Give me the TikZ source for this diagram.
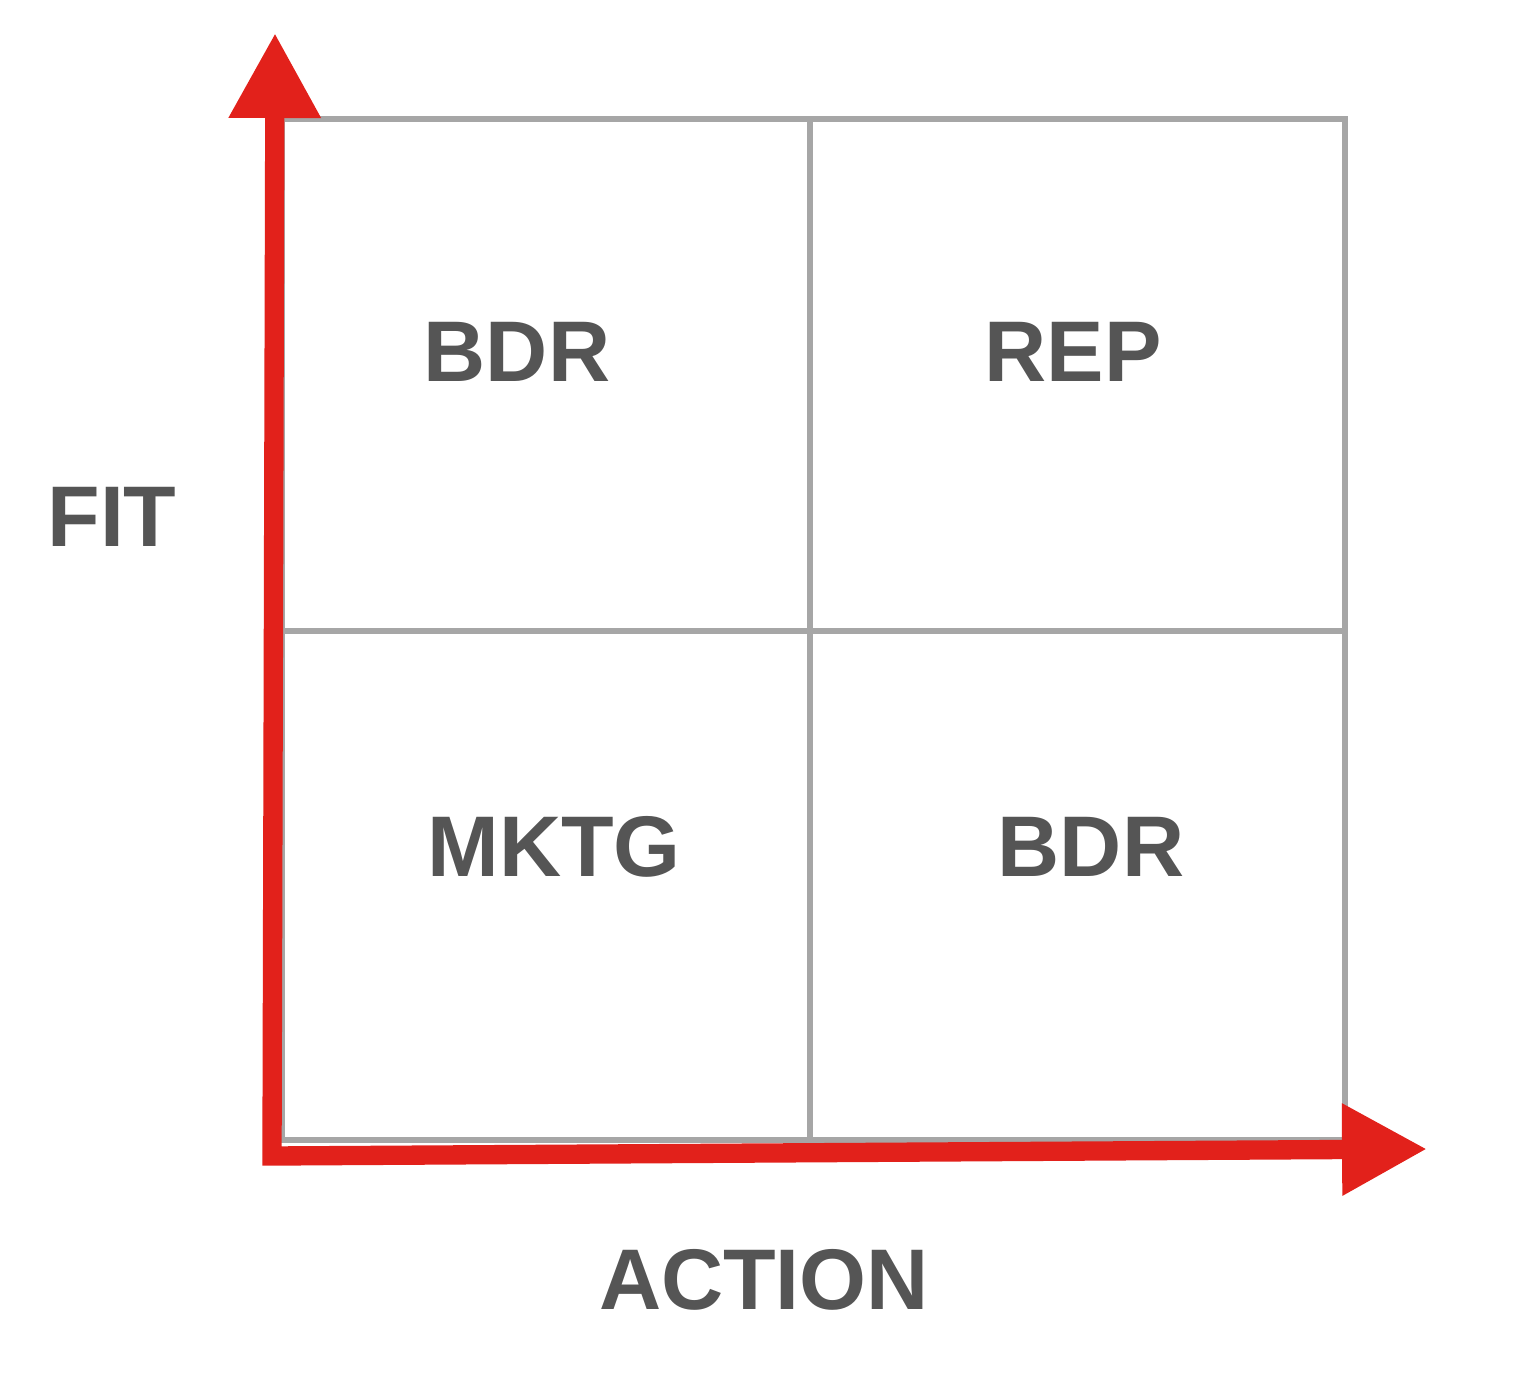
\documentclass[tikz,border=0pt]{standalone}
\usepackage{xcolor}
\usepackage{fontspec}
\setsansfont{Liberation Sans}
\usepackage{tikz}
\usetikzlibrary{arrows.meta, positioning, calc}
\definecolor{axisred}{HTML}{E2211B}
\definecolor{gridgray}{HTML}{A6A6A6}
\definecolor{labelgray}{HTML}{555555}
\tikzset{
  gridline/.style={
    draw=gridgray, line width=3.4pt
  },
  axisline/.style={
    draw=axisred, line width=11pt, line join=miter,
    {Triangle[length=1.7cm, width=1.74cm, color=axisred]}-{Triangle[length=1.7cm, width=1.74cm, color=axisred]}
  },
  quadlabel/.style={
    font=\sffamily\bfseries\fontsize{49}{49}\selectfont, text=labelgray,
    inner sep=0pt
  },
}
\begin{document}
\begin{tikzpicture}[x=0.02cm, y=-0.02cm]
  \useasboundingbox (0,0) rectangle (1513,1381);

  % Grid
  \coordinate (nw) at (282,119);
  \coordinate (se) at (1345,1140);
  \draw[gridline] (nw) rectangle (se);
  \draw[gridline] (810,119) -- (810,1140);
  \draw[gridline] (282,631) -- (1345,631);

  % Axes
  \coordinate (ytip) at (275,33);
  \coordinate (corner) at (272,1156);
  \coordinate (xtip) at (1427,1149);
  \draw[axisline] (ytip) -- (corner) -- (xtip);

  % Quadrant labels
  \node[quadlabel] (bdrtop) at (517,352) {BDR};
  \node[quadlabel] (rep) at (1073,352) {REP};
  \node[quadlabel] (mktg) at (554,847) {MKTG};
  \node[quadlabel] (bdrbottom) at (1091,847) {BDR};

  % Axis labels
  \node[quadlabel] (fit) at (112,517) {FIT};
  \node[quadlabel] (action) at (764,1280) {ACTION};
\end{tikzpicture}
\end{document}
